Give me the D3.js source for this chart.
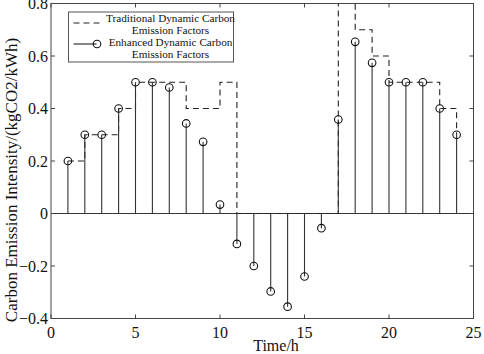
<!DOCTYPE html>
<html>
<head>
<meta charset="utf-8">
<script src="https://cdn.jsdelivr.net/npm/d3@7"></script>
<style>
  body { margin: 0; background: #fff; }
  svg { display: block; }
  svg text { font-family: "Liberation Serif", "Times New Roman", Times, "DejaVu Serif", serif; }
</style>
</head>
<body>
<div id="chart"></div>
<script>
// Data
const hours = d3.range(1, 25);
const traditional = [0.2, 0.3, 0.3, 0.4, 0.5, 0.5, 0.5, 0.4, 0.4, 0.5, 0, 0,
                     0, 0, 0, 0, 0.8, 0.7, 0.6, 0.5, 0.5, 0.5, 0.4, 0.3];
const enhanced = [0.2, 0.3, 0.3, 0.4, 0.5, 0.5, 0.48, 0.343, 0.273, 0.034, -0.116, -0.2,
                  -0.297, -0.355, -0.24, -0.056, 0.358, 0.654, 0.574, 0.5, 0.5, 0.5, 0.4, 0.3];
const xTicks = [0, 5, 10, 15, 20, 25];
const yTicks = [-0.4, -0.2, 0, 0.2, 0.4, 0.6, 0.8];
const legendLabels = [
  ["Traditional Dynamic Carbon", "Emission Factors"],
  ["Enhanced Dynamic Carbon", "Emission Factors"]
];

const W = 484, H = 354;
const margin = { top: 3.5, right: 10.5, bottom: 35.5, left: 51 };
const width = W - margin.left - margin.right;
const height = H - margin.top - margin.bottom;

const svg = d3.select("#chart").append("svg")
  .attr("width", W)
  .attr("height", H);

const g = svg.append("g")
  .attr("transform", `translate(${margin.left},${margin.top})`);

const x = d3.scaleLinear().domain([0, 25]).range([0, width]);
const y = d3.scaleLinear().domain([-0.4, 0.8]).range([height, 0]);

// clip
svg.append("defs").append("clipPath").attr("id", "clip")
  .append("rect").attr("x", 0).attr("y", -1).attr("width", width).attr("height", height + 2);

const plot = g.append("g").attr("clip-path", "url(#clip)");

// baseline
plot.append("line")
  .attr("x1", 0).attr("x2", width)
  .attr("y1", y(0)).attr("y2", y(0))
  .attr("stroke", "#333").attr("stroke-width", 1);

// traditional stairs (dashed)
const stairPts = [];
hours.forEach((h, i) => {
  stairPts.push([h, traditional[i]]);
  if (i < hours.length - 1) stairPts.push([hours[i + 1], traditional[i]]);
});
plot.append("path")
  .attr("d", d3.line().x(d => x(d[0])).y(d => y(d[1]))(stairPts))
  .attr("fill", "none")
  .attr("stroke", "#222")
  .attr("stroke-width", 1.1)
  .attr("stroke-dasharray", "6,4");

// enhanced stems
const stems = plot.selectAll("g.stem")
  .data(hours.map((h, i) => ({ h, v: enhanced[i] })))
  .enter().append("g").attr("class", "stem");

stems.append("line")
  .attr("x1", d => x(d.h)).attr("x2", d => x(d.h))
  .attr("y1", y(0)).attr("y2", d => y(d.v))
  .attr("stroke", "#333").attr("stroke-width", 1.1);

stems.append("circle")
  .attr("cx", d => x(d.h)).attr("cy", d => y(d.v))
  .attr("r", 3.8)
  .attr("fill", "none")
  .attr("stroke", "#111").attr("stroke-width", 1.1);

// axes box with inward ticks
const axisColor = "#444";
const tickLen = 4;
g.append("rect")
  .attr("x", 0).attr("y", 0).attr("width", width).attr("height", height)
  .attr("fill", "none").attr("stroke", axisColor).attr("stroke-width", 1);

xTicks.forEach(t => {
  g.append("line").attr("x1", x(t)).attr("x2", x(t)).attr("y1", height).attr("y2", height - tickLen).attr("stroke", axisColor);
  g.append("line").attr("x1", x(t)).attr("x2", x(t)).attr("y1", 0).attr("y2", tickLen).attr("stroke", axisColor);
  g.append("text")
    .attr("x", x(t)).attr("y", height + 19)
    .attr("text-anchor", "middle")
    .attr("font-size", 16).attr("fill", "#111")
    .text(t);
});

yTicks.forEach(t => {
  g.append("line").attr("x1", 0).attr("x2", tickLen).attr("y1", y(t)).attr("y2", y(t)).attr("stroke", axisColor);
  g.append("line").attr("x1", width).attr("x2", width - tickLen).attr("y1", y(t)).attr("y2", y(t)).attr("stroke", axisColor);
  g.append("text")
    .attr("x", -3).attr("y", y(t))
    .attr("dy", "0.35em")
    .attr("text-anchor", "end")
    .attr("font-size", 16).attr("fill", "#111")
    .text(t === 0 ? "0" : d3.format(".1f")(t));
});

// axis titles
svg.append("text")
  .attr("x", 276).attr("y", 351)
  .attr("text-anchor", "middle")
  .attr("font-size", 16).attr("fill", "#111")
  .text("Time/h");

svg.append("text")
  .attr("transform", "translate(17,180) rotate(-90)")
  .attr("text-anchor", "middle")
  .attr("font-size", 17).attr("fill", "#111")
  .text("Carbon Emission Intensity/(kgCO2/kWh)");

// legend
const lg = svg.append("g").attr("transform", "translate(68.5,12)");
lg.append("rect")
  .attr("width", 165).attr("height", 50)
  .attr("fill", "#fff").attr("stroke", "#555").attr("stroke-width", 1);

lg.append("line")
  .attr("x1", 5).attr("x2", 33).attr("y1", 11).attr("y2", 11)
  .attr("stroke", "#222").attr("stroke-width", 1.1).attr("stroke-dasharray", "6,4");
lg.append("line")
  .attr("x1", 5).attr("x2", 28).attr("y1", 32).attr("y2", 32)
  .attr("stroke", "#222").attr("stroke-width", 1.1);
lg.append("circle")
  .attr("cx", 28.5).attr("cy", 32).attr("r", 3.8)
  .attr("fill", "none").attr("stroke", "#111").attr("stroke-width", 1.1);

legendLabels.forEach((lines, i) => {
  lines.forEach((s, j) => {
    lg.append("text")
      .attr("x", 102).attr("y", 10 + i * 24 + j * 12)
      .attr("text-anchor", "middle")
      .attr("font-size", 11.2).attr("fill", "#111")
      .text(s);
  });
});
</script>
</body>
</html>
